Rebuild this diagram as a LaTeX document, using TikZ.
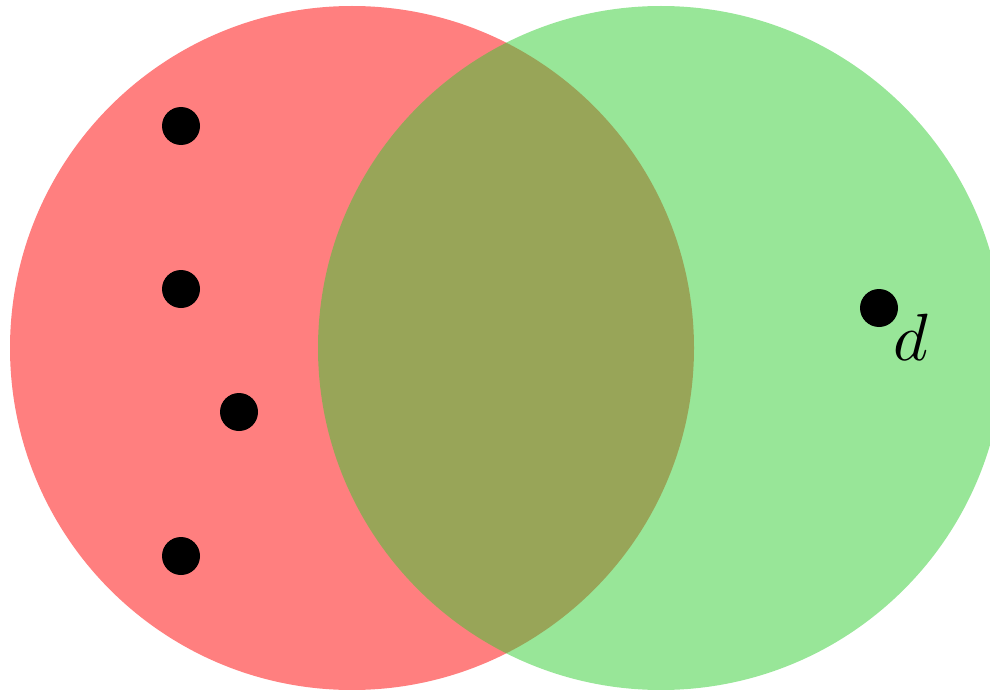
\documentclass[tikz,border=0pt]{standalone}
\begin{document}
\begin{tikzpicture}[x=0.5pt,y=-0.5pt,
  dotnode/.style={circle,fill=black,inner sep=0pt,minimum size=19pt},
  setA/.style={fill=red,opacity=0.5},
  setB/.style={fill={rgb,255:red,50;green,205;blue,50},opacity=0.5}]
\useasboundingbox (0,0) rectangle (990,690);
\clip (0,0) rectangle (990,690);
\fill[setA] (352,348) circle [x radius=171pt, y radius=171pt];
\fill[setB] (661,348) circle [x radius=171.5pt, y radius=171pt];
\node[dotnode] (p1) at (181,126) {};
\node[dotnode] (p2) at (181,289) {};
\node[dotnode] (p3) at (239,412) {};
\node[dotnode] (p4) at (181,556) {};
\node[dotnode] (p5) at (879,308) {};
\node[inner sep=0pt,scale=3.34] (lbl) at (911,337) {$d$};
\end{tikzpicture}
\end{document}
